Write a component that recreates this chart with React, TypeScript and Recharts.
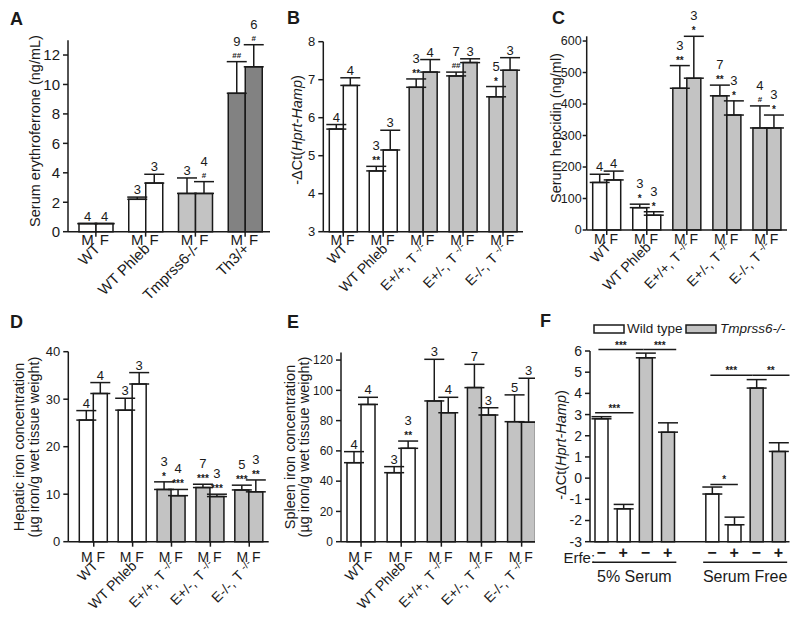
import React from 'react'
import {
  BarChart, Bar, XAxis, YAxis, ErrorBar, Cell, LabelList, ReferenceLine,
} from 'recharts'

const FONT = 'Arial, "Liberation Sans", Helvetica, sans-serif'
const INK = '#1a1a1a'
const WHITE = '#ffffff'
const LIGHT = '#c3c3c3'
const DARK = '#828282'

// ---- A: serum erythroferrone
const aGroups = ['WT', 'WT Phleb', 'Tmprss6-/-', 'Th3/+']
const aFills = [WHITE, WHITE, LIGHT, DARK]
const aMale = [0.55, 2.2, 2.6, 9.4]
const aMaleErr = [0, 0.15, 1.05, 2.15]
const aFemale = [0.55, 3.3, 2.6, 11.2]
const aFemaleErr = [0, 0.6, 0.8, 1.5]
const aMaleN = ['4', '3', '3', '9']
const aFemaleN = ['4', '3', '4', '6']
const aMaleSig = ['', '', '', '##']
const aFemaleSig = ['', '', '#', '#']
const aDetectionLimit = 0.57
const aTicks = [0, 2, 4, 6, 8, 10, 12]

// ---- B–E share the genotype groups
const genotypes = ['WT', 'WT Phleb', 'E+/+, T -/-', 'E+/-, T -/-', 'E-/-, T -/-']
const genotypeFills = [WHITE, WHITE, LIGHT, LIGHT, LIGHT]
const maleN = ['4', '3', '3', '7', '5']
const femaleN = ['4', '3', '4', '3', '3']

// B: -dCt liver Hamp
const bMale = [5.7, 4.6, 6.8, 7.1, 6.55]
const bMaleErr = [0.12, 0.12, 0.22, 0.1, 0.27]
const bFemale = [6.85, 5.15, 7.2, 7.45, 7.25]
const bFemaleErr = [0.2, 0.52, 0.33, 0.1, 0.33]
const bMaleSig = ['', '**', '**', '##', '*']
const bFemaleSig = ['', '', '', '', '']
const bTicks = [3, 4, 5, 6, 7, 8]

// C: serum hepcidin
const cMale = [151, 71, 450, 426, 324]
const cMaleErr = [26, 11, 72, 34, 70]
const cFemale = [159, 47, 482, 365, 324]
const cFemaleErr = [28, 11, 133, 45, 41]
const cMaleN = ['4', '3', '3', '7', '4']
const cFemaleN = ['4', '3', '3', '3', '3']
const cMaleSig = ['', '*', '**', '**', '#']
const cFemaleSig = ['', '*', '*', '*', '*']
const cTicks = [0, 100, 200, 300, 400, 500, 600]

// D: hepatic iron
const dMale = [25.6, 27.7, 11.0, 11.4, 10.9]
const dMaleErr = [2.0, 2.5, 1.6, 0.7, 1.0]
const dFemale = [31.2, 33.2, 9.7, 9.5, 10.5]
const dFemaleErr = [2.3, 2.4, 1.3, 0.5, 2.5]
const dMaleSig = ['', '', '*', '***', '***']
const dFemaleSig = ['', '', '***', '***', '**']
const dTicks = [0, 10, 20, 30, 40]

// E: spleen iron
const eMale = [52.2, 45.6, 93, 101.8, 79.3]
const eMaleErr = [7.3, 4.0, 27.5, 15.4, 17.7]
const eFemale = [90.7, 61.7, 85.2, 83.7, 79]
const eFemaleErr = [4.7, 4.8, 10.2, 4.8, 29]
const eMaleSig = ['', '', '', '', '']
const eFemaleSig = ['', '**', '', '', '']
const eTicks = [0, 20, 40, 60, 80, 100, 120]

// F: hepatocyte culture, Erfe treatment
const fSlots = [0, 1, 2, 3, 5, 6, 7, 8]
const fErfe = ['−', '+', '−', '+', '−', '+', '−', '+']
const fGenotype = ['wt', 'wt', 'tm', 'tm', 'wt', 'wt', 'tm', 'tm']
const fValues = [2.8, -1.45, 5.68, 2.17, -0.75, -2.2, 4.25, 1.26]
const fErrors = [0.1, 0.21, 0.22, 0.44, 0.33, 0.36, 0.4, 0.41]
const fConditions = ['5% Serum', 'Serum Free']
const fConditionCenters = [1.5, 6.5]
const fFloor = -3
const fTicks = [-3, -2, -1, 0, 1, 2, 3, 4, 5, 6]
const fBrackets = [
  { from: -0.12, to: 1.91, y: 6.07, label: '***' },
  { from: 1.91, to: 3.39, y: 6.07, label: '***' },
  { from: -0.27, to: 1.46, y: 3.08, label: '***' },
  { from: 4.93, to: 6.82, y: 4.86, label: '***' },
  { from: 6.82, to: 8.5, y: 4.86, label: '**' },
  { from: 4.93, to: 6.17, y: -0.3, label: '*' },
]

type Row = {
  group: string; fill: string
  m: number; f: number; mErr: number[]; fErr: number[]
  mN: string; fN: string; mSig: string; fSig: string
}

function buildRows(
  groups: string[], fills: string[],
  male: number[], maleErr: number[], female: number[], femaleErr: number[],
  mN: string[], fN: string[], mSig: string[], fSig: string[],
): Row[] {
  return groups.map((group, i) => ({
    group, fill: fills[i],
    m: male[i], f: female[i],
    mErr: [0, maleErr[i]], fErr: [0, femaleErr[i]],
    mN: mN[i], fN: fN[i], mSig: mSig[i], fSig: fSig[i],
  }))
}

const aRows = buildRows(aGroups, aFills, aMale, aMaleErr, aFemale, aFemaleErr, aMaleN, aFemaleN, aMaleSig, aFemaleSig)
const bRows = buildRows(genotypes, genotypeFills, bMale, bMaleErr, bFemale, bFemaleErr, maleN, femaleN, bMaleSig, bFemaleSig)
const cRows = buildRows(genotypes, genotypeFills, cMale, cMaleErr, cFemale, cFemaleErr, cMaleN, cFemaleN, cMaleSig, cFemaleSig)
const dRows = buildRows(genotypes, genotypeFills, dMale, dMaleErr, dFemale, dFemaleErr, maleN, femaleN, dMaleSig, dFemaleSig)
const eRows = buildRows(genotypes, genotypeFills, eMale, eMaleErr, eFemale, eFemaleErr, maleN, femaleN, eMaleSig, eFemaleSig)

const fRows = fSlots.map((slot, i) => ({
  slot,
  fill: fGenotype[i] === 'wt' ? WHITE : LIGHT,
  lifted: fValues[i] - fFloor,
  err: [0, fErrors[i]],
}))

type Geo = {
  left: number; top: number; width: number; height: number
  plotLeft: number; plotTop: number; plotRight: number; plotBottom: number
}

const Y_AXIS_W = 40

function marginsFor(g: Geo, xAxisH: number) {
  return {
    left: g.plotLeft - g.left - Y_AXIS_W,
    top: g.plotTop - g.top,
    right: g.left + g.width - g.plotRight,
    bottom: g.top + g.height - g.plotBottom - xAxisH,
  }
}

const axisStyle = { stroke: INK, strokeWidth: 1.5 }

type TickCfg = { barHalf: number; mfY: number; rotY: number; tsize: number; msize: number }

// tick renderer built per panel so the sizes travel in the closure
function groupTick(cfg: TickCfg) {
  return (props: any) => {
    const { x, y, payload } = props
    const label: string = String(payload.value)
    const sup = label.match(/^(.*T )(-\/-)$/)
    const txt = { fontFamily: FONT, fill: INK, style: { fontSize: cfg.msize } }
    return (
      <g transform={`translate(${x},${y})`}>
        <text x={-cfg.barHalf} y={cfg.mfY} textAnchor="middle" {...txt}>M</text>
        <text x={cfg.barHalf} y={cfg.mfY} textAnchor="middle" {...txt}>F</text>
        <text
          transform={`translate(5,${cfg.rotY}) rotate(-45)`}
          textAnchor="end"
          fontFamily={FONT}
          fill={INK}
          style={{ fontSize: cfg.tsize }}
        >
          {sup ? (
            <>
              <tspan>{sup[1]}</tspan>
              <tspan dy={-4} style={{ fontSize: cfg.tsize * 0.75 }}>{sup[2]}</tspan>
            </>
          ) : label}
        </text>
      </g>
    )
  }
}

function nLabel(rows: Row[], sex: 'm' | 'f', base: number) {
  return (props: any) => {
    const vb = props.viewBox ?? props
    const x = Number(vb.x ?? props.x)
    const y = Number(vb.y ?? props.y)
    const w = Number(vb.width ?? props.width)
    const h = Math.abs(Number(vb.height ?? props.height))
    const row = rows[props.index]
    if (!row) return null
    const v = row[sex] - base
    const err = (sex === 'm' ? row.mErr : row.fErr)[1]
    const cap = y - (v > 0 ? (err * h) / v : 0)
    const cx = x + w / 2
    const n = sex === 'm' ? row.mN : row.fN
    const sig = sex === 'm' ? row.mSig : row.fSig
    const hash = sig.includes('#')
    return (
      <g>
        {sig && (
          <text x={cx} y={cap - (hash ? 4 : 2)} textAnchor="middle" fontSize={hash ? 8 : 10}
            fontWeight="bold" fontFamily={FONT} fill={INK}>
            {sig}
          </text>
        )}
        <text x={cx} y={sig ? cap - 16 : cap - 3} textAnchor="middle" fontSize={13} fontFamily={FONT} fill={INK}>{n}</text>
      </g>
    )
  }
}

type SexPanelProps = {
  rows: Row[]; geo: Geo; domain: [number, number]; ticks: number[]
  barSize: number; padLeft?: number; mfY: number; rotY: number
  tickFont?: number; mfFont?: number; yTickFont?: number; yTickSize?: number; yTickMargin?: number; refLine?: number
}

function SexPanel({
  rows, geo, domain, ticks, barSize, padLeft = 0, mfY, rotY,
  tickFont = 14, mfFont = 14, yTickFont = 13, yTickSize = 5, yTickMargin = 3, refLine,
}: SexPanelProps) {
  const xAxisH = 70
  const base = domain[0]
  const tickRenderer = groupTick({ barHalf: barSize / 2, mfY, rotY, tsize: tickFont, msize: mfFont })
  return (
    <div style={{ position: 'absolute', left: geo.left, top: geo.top }}>
      <BarChart
        width={geo.width}
        height={geo.height}
        data={rows}
        margin={marginsFor(geo, xAxisH)}
        barGap={0}
        barSize={barSize}
      >
        <XAxis
          dataKey="group"
          type="category"
          interval={0}
          height={xAxisH}
          tickSize={5}
          tickMargin={0}
          tickLine={axisStyle}
          axisLine={axisStyle}
          padding={{ left: padLeft, right: 0 }}
          tick={tickRenderer}
        />
        <YAxis
          type="number"
          domain={domain}
          ticks={ticks}
          interval={0}
          width={Y_AXIS_W}
          tickSize={yTickSize}
          tickMargin={yTickMargin}
          tickLine={axisStyle}
          axisLine={axisStyle}
          tick={{ fontSize: yTickFont, fill: INK, fontFamily: FONT }}
        />
        <Bar dataKey="m" isAnimationActive={false} stroke={INK} strokeWidth={1.5}>
          {rows.map((r, i) => <Cell key={i} fill={r.fill} />)}
          <ErrorBar dataKey="mErr" direction="y" width={10} stroke={INK} strokeWidth={1.5} />
          <LabelList dataKey="m" content={nLabel(rows, 'm', base)} />
        </Bar>
        <Bar dataKey="f" isAnimationActive={false} stroke={INK} strokeWidth={1.5}>
          {rows.map((r, i) => <Cell key={i} fill={r.fill} />)}
          <ErrorBar dataKey="fErr" direction="y" width={10} stroke={INK} strokeWidth={1.5} />
          <LabelList dataKey="f" content={nLabel(rows, 'f', base)} />
        </Bar>
        {refLine != null && (
          <ReferenceLine y={refLine} stroke={INK} strokeWidth={1.5} ifOverflow="visible" />
        )}
      </BarChart>
    </div>
  )
}

function ErfeTick(props: any) {
  const { x, y, payload } = props
  const i = fSlots.indexOf(Number(payload.value))
  return (
    <g transform={`translate(${x},${y})`}>
      <text y={16.5} textAnchor="middle" fontWeight="bold" fontFamily={FONT} fill={INK} style={{ fontSize: 16 }}>{fErfe[i] ?? ''}</text>
      {i === 0 && <text x={-6} y={21} textAnchor="end" fontFamily={FONT} fill={INK} style={{ fontSize: 15 }}>Erfe:</text>}
    </g>
  )
}

function ConditionTick(props: any) {
  const { x, y, payload } = props
  const i = fConditionCenters.indexOf(Number(payload.value))
  return (
    <g transform={`translate(${x},${y})`}>
      <line x1={-42} x2={42} y1={-1.4} y2={-1.4} stroke={INK} strokeWidth={1.5} />
      <text y={18.5} textAnchor="middle" fontFamily={FONT} fill={INK} style={{ fontSize: 16 }}>{fConditions[i] ?? ''}</text>
    </g>
  )
}

function PanelF() {
  const geo: Geo = { left: 535, top: 300, width: 265, height: 332, plotLeft: 590, plotTop: 351, plotRight: 789.5, plotBottom: 541.7 }
  return (
    <div style={{ position: 'absolute', left: geo.left, top: geo.top }}>
      <BarChart width={geo.width} height={geo.height} data={fRows} margin={marginsFor(geo, 52)} barSize={13}>
        <XAxis
          dataKey="slot"
          type="number"
          domain={[-0.5, 8.5]}
          ticks={fSlots}
          interval={0}
          height={22}
          tickSize={0}
          tickMargin={0}
          tickLine={false}
          axisLine={axisStyle}
          tick={ErfeTick}
        />
        <XAxis
          xAxisId="cond"
          dataKey="slot"
          type="number"
          domain={[-0.5, 8.5]}
          ticks={fConditionCenters}
          interval={0}
          height={30}
          tickSize={0}
          tickMargin={0}
          tickLine={false}
          axisLine={false}
          tick={ConditionTick}
        />
        <YAxis
          type="number"
          domain={[0, 9]}
          ticks={fTicks.map((t) => t - fFloor)}
          tickFormatter={(v: number) => String(v + fFloor)}
          interval={0}
          width={Y_AXIS_W}
          tickSize={5}
          tickMargin={3}
          tickLine={axisStyle}
          axisLine={axisStyle}
          tick={{ fontSize: 14, fill: INK, fontFamily: FONT }}
        />
        <Bar dataKey="lifted" isAnimationActive={false} stroke={INK} strokeWidth={1.5}>
          {fRows.map((r, i) => <Cell key={i} fill={r.fill} />)}
          <ErrorBar dataKey="err" direction="y" width={10} stroke={INK} strokeWidth={1.5} />
        </Bar>
        {fBrackets.map((b, i) => (
          <ReferenceLine
            key={i}
            segment={[{ x: b.from, y: b.y - fFloor }, { x: b.to, y: b.y - fFloor }]}
            stroke={INK}
            strokeWidth={1.5}
            ifOverflow="visible"
            label={{ value: b.label, position: 'top', offset: 1, fontSize: 10, fontWeight: 'bold', fill: INK }}
          />
        ))}
      </BarChart>
    </div>
  )
}

function Titles() {
  const vTitle = (x: number, y: number, content: React.ReactNode) => (
    <text transform={`translate(${x},${y}) rotate(-90)`} textAnchor="middle" fontSize={14.5}
      fontFamily={FONT} fill={INK}>{content}</text>
  )
  const dct = <>-ΔCt(<tspan fontStyle="italic">Hprt-Hamp</tspan>)</>
  return (
    <svg width={800} height={632} style={{ position: 'absolute', left: 0, top: 0, pointerEvents: 'none' }}>
      <g fontSize={18} fontWeight="bold" fontFamily={FONT} fill={INK}>
        <text x={10} y={25}>A</text>
        <text x={287} y={24}>B</text>
        <text x={552} y={24}>C</text>
        <text x={10} y={328}>D</text>
        <text x={287} y={328}>E</text>
        <text x={540} y={327}>F</text>
      </g>
      {vTitle(40, 131, 'Serum erythroferrone (ng/mL)')}
      {vTitle(302, 130, dct)}
      {vTitle(561, 128, 'Serum hepcidin (ng/ml)')}
      {vTitle(24, 447, 'Hepatic iron concentration')}
      {vTitle(39, 447, '(µg iron/g wet tissue weight)')}
      {vTitle(295, 447, 'Spleen iron concentration')}
      {vTitle(309, 447, '(µg iron/g wet tissue weight)')}
      {vTitle(566, 445, dct)}
      <g fontSize={13.5} fontFamily={FONT} fill={INK}>
        <rect x={594} y={325} width={30} height={8} fill={WHITE} stroke={INK} strokeWidth={1.5} />
        <text x={627} y={333}>Wild type</text>
        <rect x={686} y={325} width={30} height={8} fill={LIGHT} stroke={INK} strokeWidth={1.5} />
        <text x={720} y={333} fontStyle="italic">Tmprss6-/-</text>
      </g>
    </svg>
  )
}

export default function App() {
  return (
    <div style={{ position: 'absolute', left: 0, top: 0, width: 800, height: 632, background: '#fff', fontFamily: FONT }}>
      <SexPanel
        rows={aRows}
        geo={{ left: 0, top: 0, width: 278, height: 305, plotLeft: 68, plotTop: 40.3, plotRight: 270, plotBottom: 231.7 }}
        domain={[0, 13]}
        ticks={aTicks}
        barSize={17}
        padLeft={3}
        mfY={8.5}
        rotY={13}
        tickFont={15}
        mfFont={15}
        yTickFont={15}
      />
      <SexPanel
        rows={bRows}
        geo={{ left: 272, top: 0, width: 263, height: 305, plotLeft: 323.3, plotTop: 41.7, plotRight: 523, plotBottom: 231.7 }}
        domain={[3, 8]}
        ticks={bTicks}
        barSize={14}
        mfY={8.5}
        rotY={13}
      />
      <SexPanel
        rows={cRows}
        geo={{ left: 535, top: 0, width: 265, height: 305, plotLeft: 586.7, plotTop: 36.3, plotRight: 787, plotBottom: 230 }}
        domain={[0, 615]}
        ticks={cTicks}
        barSize={14}
        mfY={8.5}
        rotY={13}
        yTickFont={12.5}
        yTickSize={4}
        yTickMargin={1}
      />
      <SexPanel
        rows={dRows}
        geo={{ left: 0, top: 305, width: 278, height: 327, plotLeft: 68.3, plotTop: 351.7, plotRight: 268.7, plotBottom: 541.7 }}
        domain={[0, 40]}
        ticks={dTicks}
        barSize={14}
        padLeft={6}
        mfY={15}
        rotY={20}
      />
      <SexPanel
        rows={eRows}
        geo={{ left: 272, top: 305, width: 263, height: 327, plotLeft: 341, plotTop: 352.5, plotRight: 541.7, plotBottom: 541.7 }}
        domain={[0, 125]}
        ticks={eTicks}
        barSize={14}
        mfY={15}
        rotY={20}
        yTickFont={12}
      />
      <PanelF />
      <Titles />
    </div>
  )
}
